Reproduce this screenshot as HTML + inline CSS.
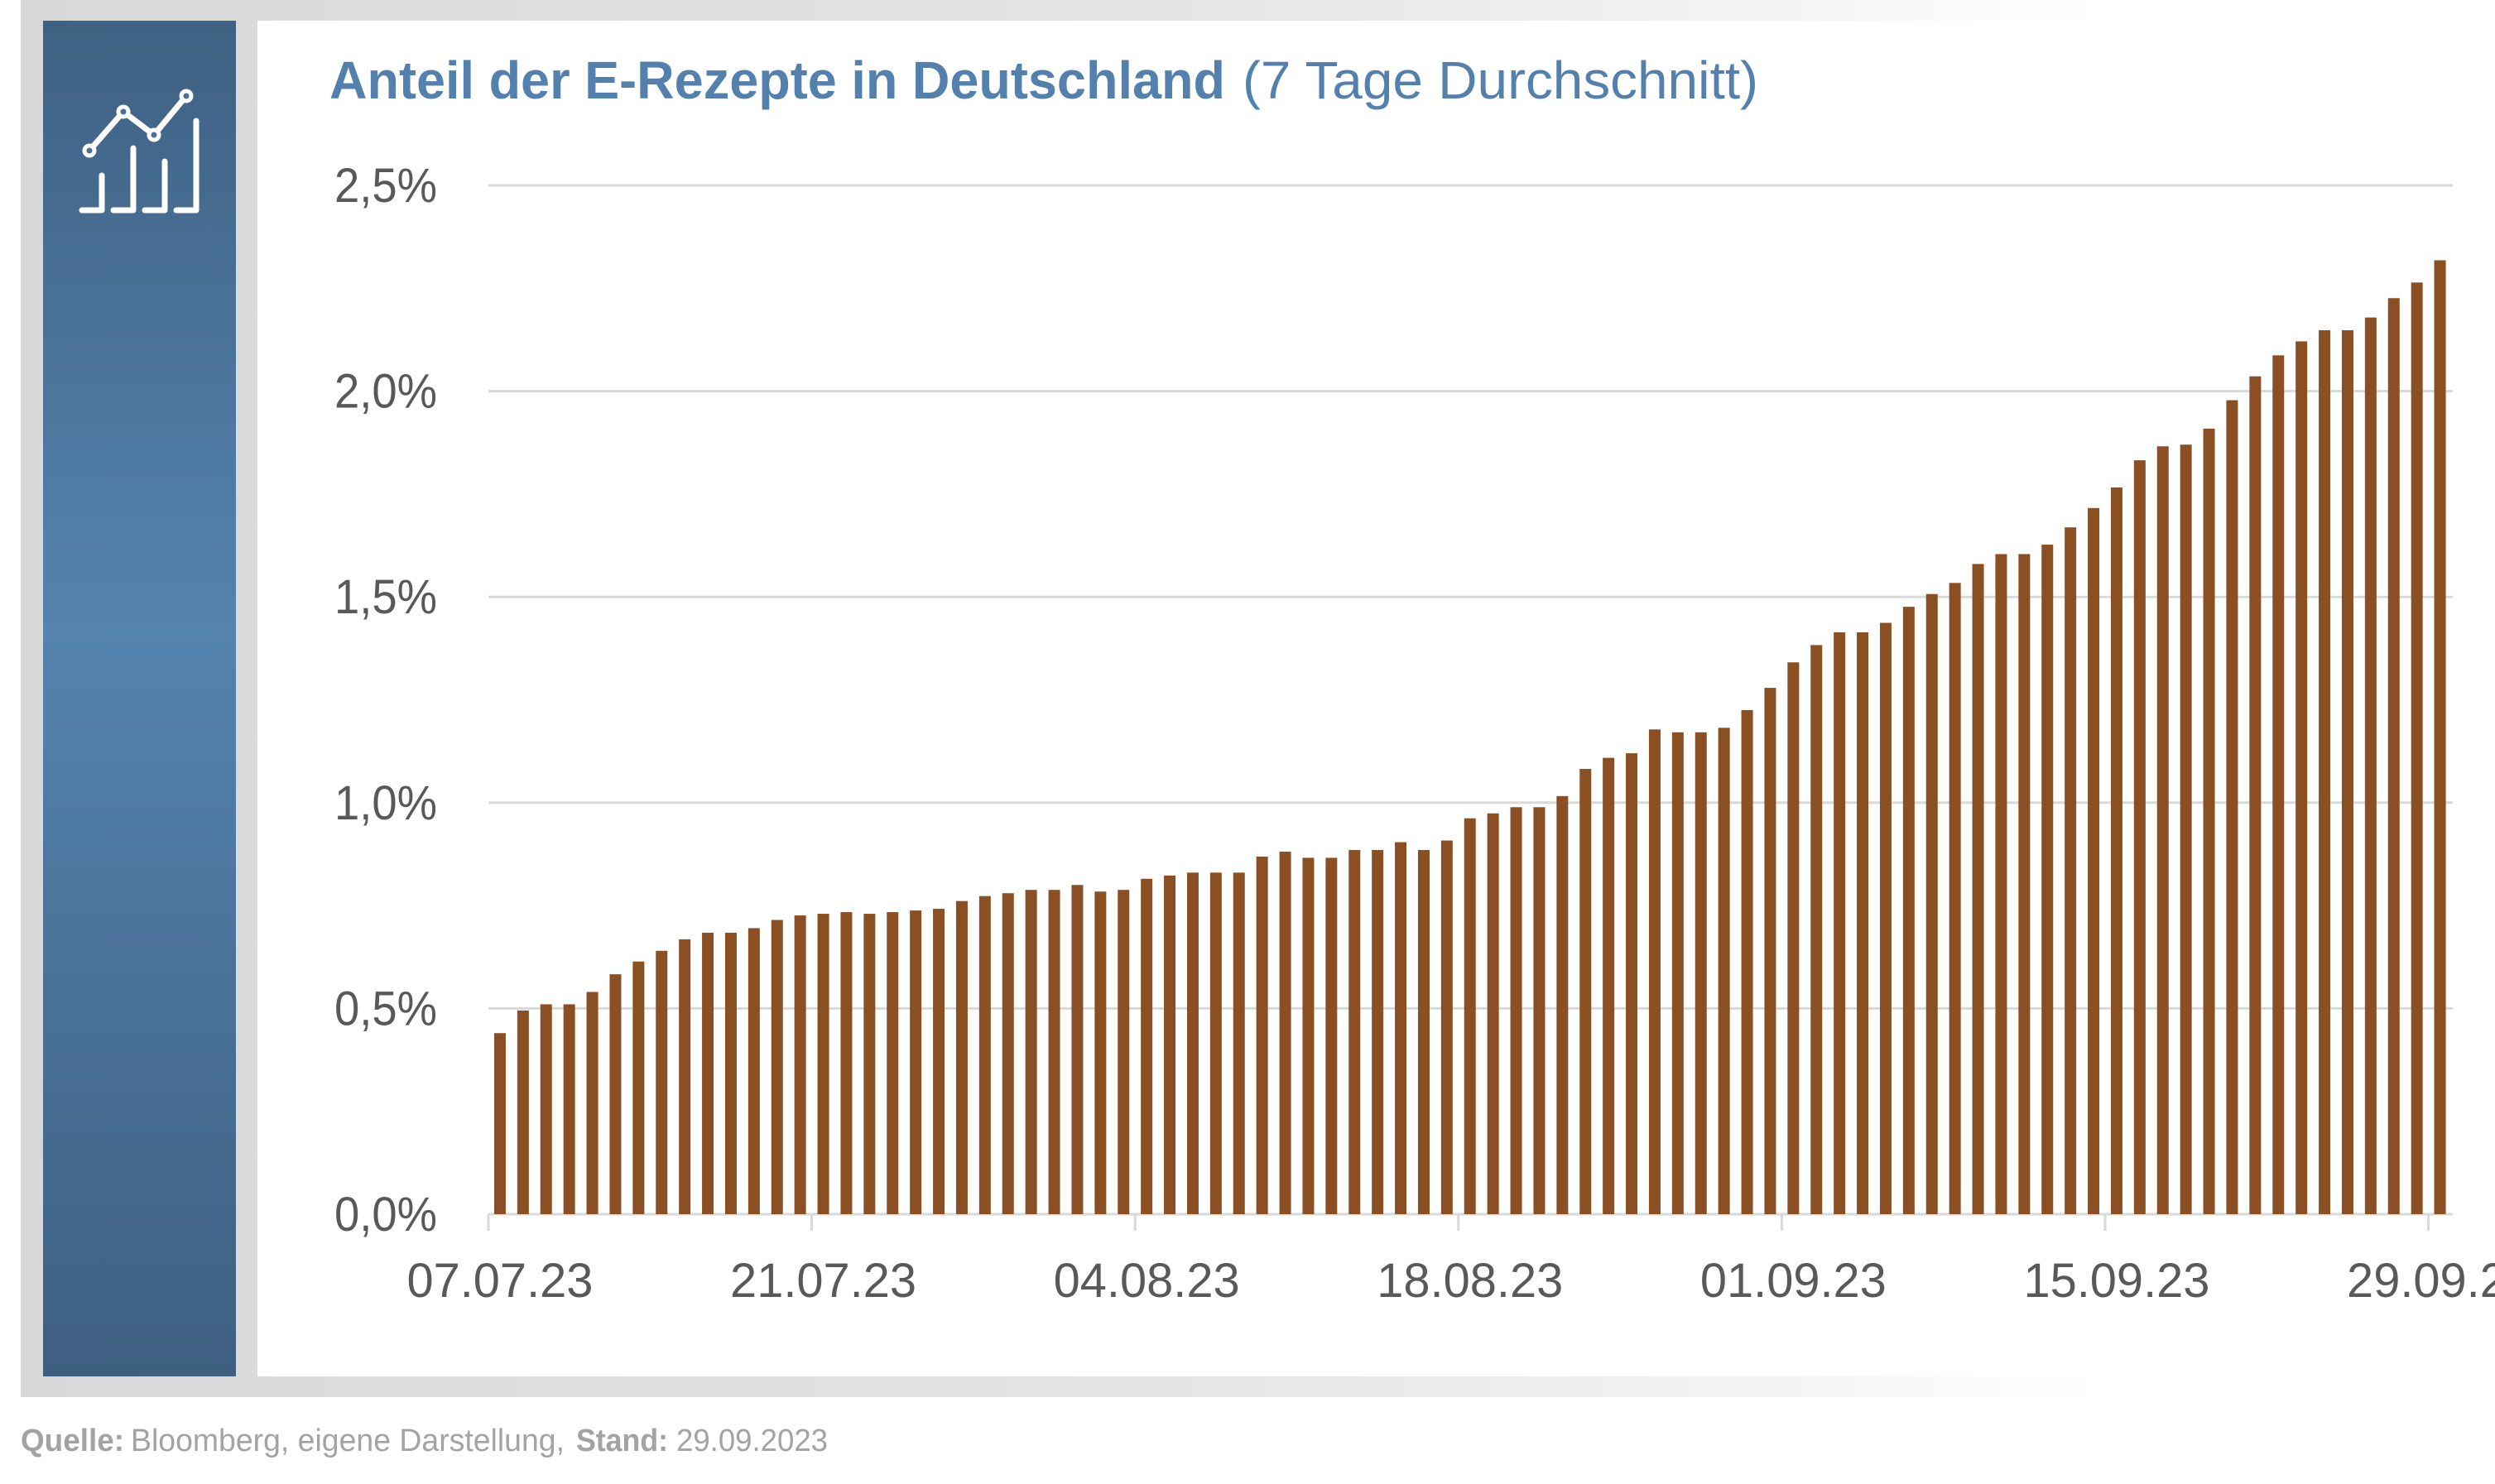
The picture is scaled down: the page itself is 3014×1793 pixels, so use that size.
<!DOCTYPE html>
<html><head><meta charset="utf-8"><style>
html,body{margin:0;padding:0;background:#fff;width:3014px;height:1793px;overflow:hidden}
svg{display:block}
text{font-family:"Liberation Sans",sans-serif}
</style></head><body>
<svg id="s" xmlns="http://www.w3.org/2000/svg" width="3014" height="1793" viewBox="0 0 3014 1793">
<defs>
<linearGradient id="fr" x1="0" y1="0" x2="1" y2="0">
<stop offset="0" stop-color="#d8d8d8"/><stop offset="0.45" stop-color="#e4e4e4"/><stop offset="0.7" stop-color="#f3f3f3"/><stop offset="0.84" stop-color="#ffffff"/><stop offset="1" stop-color="#ffffff"/>
</linearGradient>
<linearGradient id="bl" x1="0" y1="0" x2="0" y2="1">
<stop offset="0" stop-color="#3f6182"/><stop offset="0.45" stop-color="#5583af"/><stop offset="1" stop-color="#3e5f80"/>
</linearGradient>
</defs>
<rect x="25" y="0" width="2989" height="1688" fill="url(#fr)"/>
<rect x="52" y="25" width="233" height="1638" fill="url(#bl)"/>
<rect x="311" y="25" width="2703" height="1638" fill="#ffffff"/>
<g stroke="#ffffff" stroke-width="7" fill="none" stroke-linecap="round" stroke-linejoin="round">
<polyline points="108,182 149,135 186,163 225,116"/>
<polyline points="99,254 123,254 123,212"/>
<polyline points="137,254 161,254 161,179"/>
<polyline points="175,254 199,254 199,195"/>
<polyline points="213,254 237,254 237,146"/>
</g>
<g fill="#4a7096" stroke="#ffffff" stroke-width="5">
<circle cx="108" cy="182" r="6"/><circle cx="149" cy="135" r="6"/><circle cx="186" cy="163" r="6"/><circle cx="225" cy="116" r="6"/>
</g>
<text x="398" y="119" font-size="64" font-weight="bold" fill="#5380ad" textLength="1082" lengthAdjust="spacingAndGlyphs">Anteil der E-Rezepte in Deutschland</text>
<text x="1501" y="119" font-size="64" fill="#5380ad" textLength="623" lengthAdjust="spacingAndGlyphs">(7 Tage Durchschnitt)</text>
<g id="grid" stroke="#d9d9d9" stroke-width="3"></g>
<g id="ylab" font-size="58" fill="#595959" text-anchor="end"></g>
<g id="bars" fill="#8a5024"></g>
<g id="xlab" font-size="58" fill="#595959" text-anchor="middle"></g>
<text x="25" y="1753" font-size="38" font-weight="bold" fill="#a3a3a3" textLength="125" lengthAdjust="spacingAndGlyphs">Quelle:</text>
<text x="158" y="1753" font-size="38" fill="#a3a3a3" textLength="524" lengthAdjust="spacingAndGlyphs">Bloomberg, eigene Darstellung,</text>
<text x="696" y="1753" font-size="38" font-weight="bold" fill="#a3a3a3" textLength="111" lengthAdjust="spacingAndGlyphs">Stand:</text>
<text x="817" y="1753" font-size="38" fill="#a3a3a3" textLength="183" lengthAdjust="spacingAndGlyphs">29.09.2023</text>
</svg>
<script>
var NS="http://www.w3.org/2000/svg";
function el(p,t,a,txt){var e=document.createElementNS(NS,t);for(var k in a)e.setAttribute(k,a[k]);if(txt)e.textContent=txt;document.getElementById(p).appendChild(e);}
var y0=1467,per=248.6,x0=590,cw=27.9;
var yl=["0,0%","0,5%","1,0%","1,5%","2,0%","2,5%"];
for(var i=0;i<6;i++){var y=y0-i*per;el("grid","line",{x1:590,x2:2963,y1:y,y2:y});
el("ylab","text",{x:528,y:y+20,textLength:124,lengthAdjust:"spacingAndGlyphs"},yl[i]);}
for(var k=0;k<=6;k++){var x=x0+k*14*cw;el("grid","line",{x1:x,x2:x,y1:y0,y2:1487});}
var v=[0.44,0.495,0.51,0.51,0.54,0.583,0.614,0.64,0.668,0.684,0.684,0.695,0.715,0.726,0.73,0.734,0.73,0.734,0.738,0.742,0.761,0.773,0.78,0.788,0.788,0.80,0.784,0.788,0.815,0.823,0.83,0.83,0.83,0.869,0.881,0.866,0.866,0.885,0.885,0.904,0.885,0.908,0.962,0.974,0.989,0.989,1.016,1.082,1.109,1.12,1.178,1.171,1.171,1.182,1.225,1.279,1.341,1.383,1.414,1.414,1.437,1.476,1.507,1.534,1.58,1.604,1.604,1.627,1.669,1.716,1.766,1.832,1.866,1.87,1.909,1.978,2.036,2.087,2.121,2.148,2.148,2.179,2.226,2.264,2.318];
for(var i=0;i<v.length;i++){var h=v[i]/0.5*per;var cx=x0+cw*(i+0.5);el("bars","rect",{x:cx-7,y:y0-h,width:14,height:h});}
var xl=["07.07.23","21.07.23","04.08.23","18.08.23","01.09.23","15.09.23","29.09.23"];
for(var k=0;k<7;k++){el("xlab","text",{x:x0+cw*(14*k+0.5),y:1567,textLength:225,lengthAdjust:"spacingAndGlyphs"},xl[k]);}
</script>
</body></html>
